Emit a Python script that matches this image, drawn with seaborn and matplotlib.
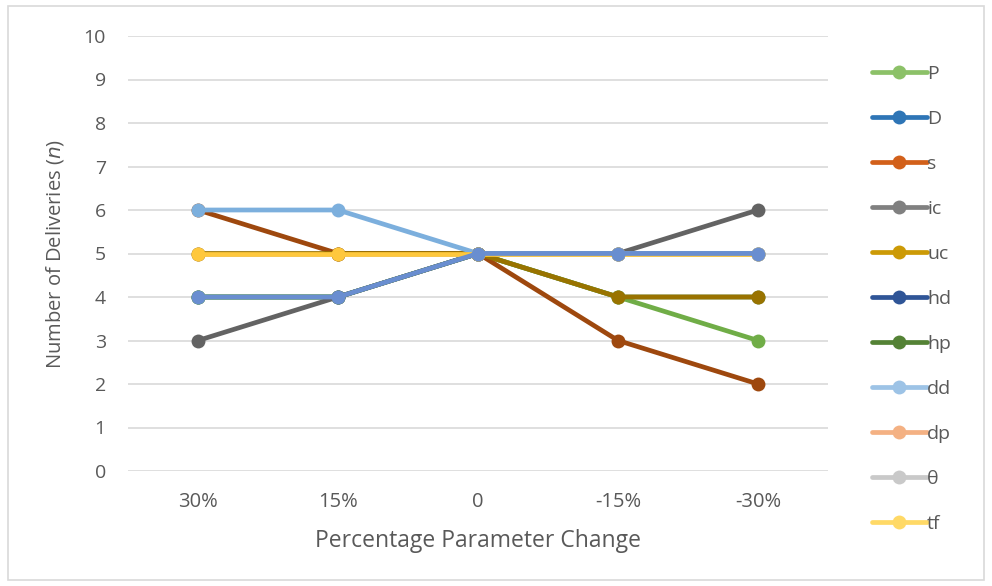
import pandas as pd
import matplotlib.pyplot as plt
import seaborn as sns
from matplotlib.lines import Line2D
from matplotlib.patches import Rectangle

# categories on the x axis
changes = ["30%", "15%", "0", "-15%", "-30%"]

# number of deliveries per parameter
P = [4, 4, 5, 4, 3]
D = [4, 4, 5, 5, 5]
s = [6, 5, 5, 3, 2]
ic = [3, 4, 5, 5, 6]
uc = [5, 5, 5, 4, 4]
hd = [4, 4, 5, 5, 5]
hp = [4, 4, 5, 4, 4]
dd = [6, 6, 5, 5, 5]
dp = [5, 5, 5, 5, 5]
theta = [5, 5, 5, 5, 5]
tf = [5, 5, 5, 5, 5]

names = ["P", "D", "s", "ic", "uc", "hd", "hp", "dd", "dp", "θ", "tf"]
values = [P, D, s, ic, uc, hd, hp, dd, dp, theta, tf]

# colours shown in the legend
legend_colors = ["#8CC168", "#2E75B6", "#D2601A", "#808080", "#CC9A06", "#2F5597",
                 "#548235", "#9DC3E6", "#F4B183", "#C9C9C9", "#FFD966"]
# colours the lines come out with on the plot
line_colors = {"P": "#70AD47", "D": "#2E75B6", "s": "#9E480E", "ic": "#636363",
               "uc": "#997300", "hd": "#698ED0", "hp": "#548235", "dd": "#7CAFDD",
               "dp": "#F4B183", "θ": "#C9C9C9", "tf": "#FFC83D"}
# bottom to top
draw_order = ["D", "hp", "dp", "θ", "P", "s", "uc", "ic", "dd", "tf", "hd"]

rows = []
for n, v in zip(names, values):
    for c, y in zip(changes, v):
        rows.append({"change": c, "param": n, "n": y})
df = pd.DataFrame(rows)

sns.set_style("white")
plt.rcParams["font.family"] = ["Open Sans", "DejaVu Sans"]

fig = plt.figure(figsize=(9.92, 5.86), dpi=100)
ax = fig.add_axes([128 / 992, 1 - 471 / 586, 700 / 992, 435 / 586])

for name in draw_order:
    sub = df[df["param"] == name]
    sns.lineplot(data=sub, x="change", y="n", ax=ax, color=line_colors[name],
                 linewidth=3.4, marker="o", markersize=10, markeredgewidth=0,
                 sort=False, legend=False)

ax.set_xlim(-0.5, 4.5)
ax.set_ylim(0, 10)
ax.set_yticks(range(0, 11))
ax.grid(axis="y", color="#D9D9D9", linewidth=1.2)
ax.set_axisbelow(True)
for sp in ax.spines.values():
    sp.set_visible(False)
ax.tick_params(axis="both", length=0, labelcolor="#595959")
ax.tick_params(axis="y", pad=16, labelsize=14)
ax.tick_params(axis="x", pad=15, labelsize=14.5)
ax.set_xlabel("Percentage Parameter Change", fontsize=16.5, color="#595959")
ax.set_ylabel("Number of Deliveries ($\\it{n}$)", fontsize=14.5, color="#595959")
ax.xaxis.set_label_coords(0.5, -0.133)
ax.yaxis.set_label_coords(-0.088, 0.5)

handles = [Line2D([], [], color=c, linewidth=3.4, marker="o", markersize=10,
                  markeredgewidth=0) for c in legend_colors]
leg = fig.legend(handles, names, loc="upper left", bbox_to_anchor=(864 / 992, 1 - 57 / 586),
                 frameon=False, fontsize=14, labelcolor="#595959", handlelength=2.85,
                 handletextpad=0.0, labelspacing=1.39, borderaxespad=0)

fig.patches.append(Rectangle((8 / 992, 6 / 586), 976 / 992, 574 / 586, transform=fig.transFigure,
                             fill=False, edgecolor="#D9D9D9", linewidth=1.2))

fig.savefig("out.png", dpi=100)
